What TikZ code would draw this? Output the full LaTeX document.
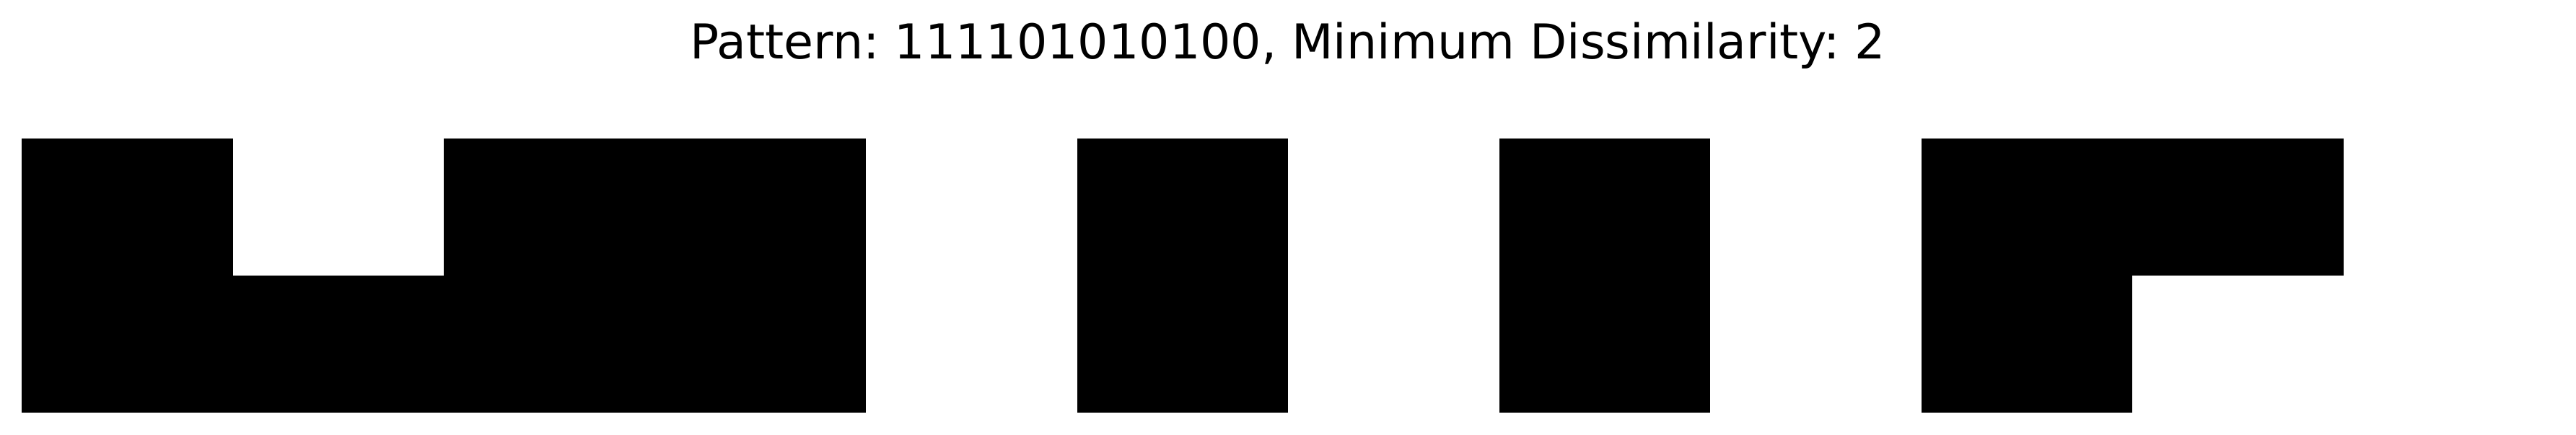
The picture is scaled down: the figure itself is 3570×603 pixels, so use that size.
\documentclass[tikz,border=0pt]{standalone}
\usepackage{fontspec}
\setmainfont{DejaVu Sans}
\begin{document}
\frenchspacing
\begin{tikzpicture}[x=0.5pt,y=-0.5pt,
  cellfill/.style={fill=black,draw=none},
  titletext/.style={font=\fontsize{33.3pt}{40pt}\selectfont\frenchspacing,inner sep=0pt,anchor=base}]
\useasboundingbox (0,0) rectangle (3570,603);
\fill[white] (0,0) rectangle (3570,603);
\node[titletext] (title) at (1785,82) {Pattern: 111101010100, Minimum Dissimilarity: 2};
% top row: 101101010110
\foreach \c/\v in {0/1,1/0,2/1,3/1,4/0,5/1,6/0,7/1,8/0,9/1,10/1,11/0}{
  \ifnum\v=1
    \fill[cellfill] ({30+292.5*\c},192) rectangle ({30+292.5*(\c+1)},382.25);
  \fi
}
% bottom row: 111101010100
\foreach \c/\v in {0/1,1/1,2/1,3/1,4/0,5/1,6/0,7/1,8/0,9/1,10/0,11/0}{
  \ifnum\v=1
    \fill[cellfill] ({30+292.5*\c},382) rectangle ({30+292.5*(\c+1)},572.5);
  \fi
}
\end{tikzpicture}
\end{document}
